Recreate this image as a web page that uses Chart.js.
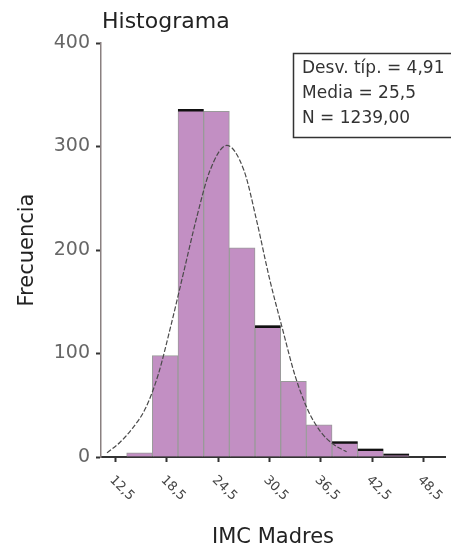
<!DOCTYPE html>
<html>
<head>
<meta charset="utf-8">
<script src="https://cdn.jsdelivr.net/npm/chart.js@4"></script>
<style>
body { margin: 0; background: #fff; }
</style>
</head>
<body>
<canvas id="histChart" width="451" height="553"></canvas>
<script>
var binCenters = [15.3, 18.3, 21.3, 24.3, 27.3, 30.3, 33.3, 36.3, 39.3, 42.3, 45.3];
var frecuencias = [4, 98, 336, 334, 202, 127, 73, 31, 15, 8, 3];
var binsBordeNegro = [2, 5, 8, 9, 10];

// curva normal, puntos
var curvaX = [11.5, 13, 14.5, 16, 17.5, 19, 20.5, 22, 23.5, 25.5, 27.5, 29, 30.5, 32, 33.5, 35, 36.5, 38, 39.5];
var curvaY = [4, 14, 28, 47, 80, 128, 180, 232, 276, 301, 277, 228, 172, 124, 78, 45, 24, 12, 5];

var xTicks = [12.5, 18.5, 24.5, 30.5, 36.5, 42.5, 48.5];
var xTickLabels = ['12,5', '18,5', '24,5', '30,5', '36,5', '42,5', '48,5'];
var yTicks = [0, 100, 200, 300, 400];
var statsLines = ['Desv. típ. = 4,91', 'Media = 25,5', 'N = 1239,00'];

var fuente = 'DejaVu Sans';

var textosPlugin = {
    id: 'textos',
    afterDraw: function(chart) {
        var ctx = chart.ctx;
        var xs = chart.scales.x;
        ctx.save();

        ctx.fillStyle = '#222';
        ctx.font = '22px "' + fuente + '"';
        ctx.textAlign = 'left';
        ctx.textBaseline = 'alphabetic';
        ctx.fillText('Histograma', 102, 28);

        // etiquetas del eje x giradas hacia abajo
        ctx.font = '13px "' + fuente + '"';
        ctx.fillStyle = '#444';
        ctx.textBaseline = 'middle';
        xTicks.forEach(function(v, i) {
            var px = xs.getPixelForValue(v);
            ctx.save();
            ctx.translate(px - 4, xs.top + 21);
            ctx.rotate(Math.PI / 4);
            ctx.fillText(xTickLabels[i], 0, 0);
            ctx.restore();
        });

        // cuadro de estadisticos
        ctx.fillStyle = '#fff';
        ctx.fillRect(293, 53, 162, 85);
        ctx.strokeStyle = '#333';
        ctx.lineWidth = 1.5;
        ctx.strokeRect(293.5, 53.5, 162, 84);
        ctx.fillStyle = '#333';
        ctx.font = '17px "' + fuente + '"';
        statsLines.forEach(function(t, i) {
            ctx.fillText(t, 302, 69 + i * 25);
        });
        ctx.restore();
    }
};

var ctx = document.getElementById('histChart');
var myChart = new Chart(ctx, {
    type: 'bar',
    data: {
        datasets: [{
            type: 'line',
            data: curvaX.map(function(x, i) { return { x: x, y: curvaY[i] }; }),
            borderColor: '#4a4a4a',
            borderWidth: 1.2,
            borderDash: [5, 2],
            pointRadius: 0,
            cubicInterpolationMode: 'monotone',
            fill: false,
            order: 0
        }, {
            data: binsBordeNegro.map(function(i) { return { x: binCenters[i], y: frecuencias[i] }; }),
            backgroundColor: 'rgba(0,0,0,0)',
            borderColor: '#111',
            borderWidth: { top: 2, left: 0, right: 0, bottom: 0 },
            borderSkipped: false,
            barPercentage: 1,
            categoryPercentage: 1,
            grouped: false,
            order: 1
        }, {
            data: binCenters.map(function(x, i) { return { x: x, y: frecuencias[i] }; }),
            backgroundColor: '#c28fc3',
            borderColor: '#9a9a9a',
            borderWidth: 1,
            barPercentage: 1,
            categoryPercentage: 1,
            grouped: false,
            order: 2
        }]
    },
    options: {
        responsive: false,
        animation: false,
        layout: { padding: { top: 43, right: 6, left: 0, bottom: 0 } },
        plugins: {
            legend: { display: false },
            title: { display: false },
            tooltip: { enabled: false }
        },
        scales: {
            x: {
                type: 'linear',
                min: 10.8,
                max: 51,
                offset: false,
                afterBuildTicks: function(s) { s.ticks = xTicks.map(function(v) { return { value: v }; }); },
                afterFit: function(s) { s.height = 96; },
                grid: { offset: false, drawOnChartArea: false, tickLength: 5, tickColor: '#333', tickWidth: 2 },
                border: { color: '#333', width: 2 },
                ticks: { display: false },
                title: {
                    display: true,
                    text: 'IMC Madres',
                    color: '#222',
                    font: { family: fuente, size: 21 },
                    padding: { top: 0, bottom: 3 }
                }
            },
            y: {
                min: 0,
                max: 400,
                afterBuildTicks: function(s) { s.ticks = yTicks.map(function(v) { return { value: v }; }); },
                afterFit: function(s) { s.width = 101; },
                grid: { drawOnChartArea: false, tickLength: 5, tickColor: '#333', tickWidth: 2 },
                border: { color: '#8a8080', width: 1.5 },
                ticks: { color: '#666', padding: 6, font: { family: fuente, size: 19 } },
                title: {
                    display: true,
                    text: 'Frecuencia',
                    color: '#222',
                    font: { family: fuente, size: 21 },
                    padding: { top: 15, bottom: 0 }
                }
            }
        }
    },
    plugins: [textosPlugin]
});
</script>
</body>
</html>
